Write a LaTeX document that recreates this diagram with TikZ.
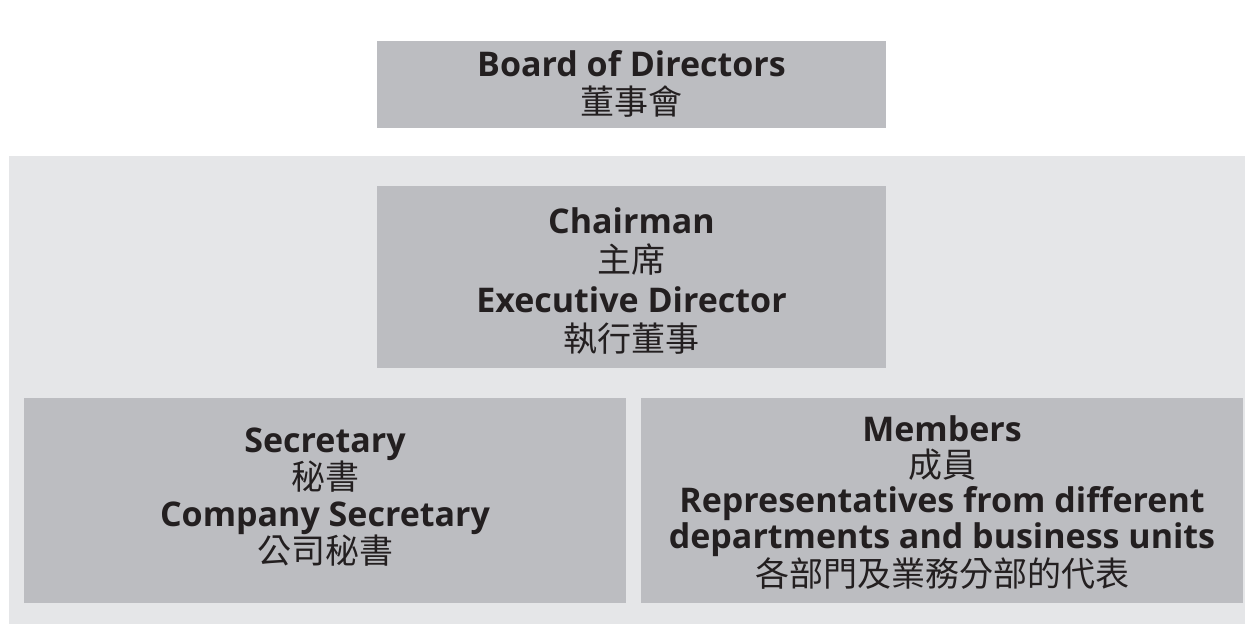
\documentclass[tikz,border=0pt]{standalone}
\usepackage{fontspec}
\setmainfont{Open Sans}
\newfontfamily\cjk{Noto Sans CJK TC}
\definecolor{boxgray}{HTML}{BCBDC1}
\definecolor{panelgray}{HTML}{E5E6E8}
\definecolor{ink}{HTML}{231F20}
\newcommand{\en}[1]{\textbf{#1}}
\newcommand{\zh}[1]{{\cjk #1}}
\begin{document}
\begin{tikzpicture}[x=1pt,y=-1pt,
  orgbox/.style={fill=boxgray, inner sep=0pt},
  orgtext/.style={inner sep=0pt, text=ink, align=center},
  lines/.style={font=\fontsize{34}{#1}\selectfont}]
\useasboundingbox (0,0) rectangle (1246,624);
% committee panel
\fill[panelgray] (9,156) rectangle (1245,624);
% boxes
\node[orgbox, minimum width=509pt, minimum height=87pt]  (board) at (631.5,84.5) {};
\node[orgbox, minimum width=509pt, minimum height=182pt] (chair) at (631.5,277) {};
\node[orgbox, minimum width=602pt, minimum height=205pt] (secr)  at (325,500.5) {};
\node[orgbox, minimum width=602pt, minimum height=205pt] (memb)  at (942,500.5) {};
% titles
\node[orgtext, lines=38, yshift=1pt] (boardtxt) at (board.center)
  {\en{Board of Directors}\\\zh{董事會}};
\node[orgtext, lines=39.5, yshift=-4pt] (chairtxt) at (chair.center)
  {\en{Chairman}\\\zh{主席}\\\en{Executive Director}\\\zh{執行董事}};
\node[orgtext, lines=37, yshift=3pt] (secrtxt) at (secr.center)
  {\en{Secretary}\\\zh{秘書}\\\en{Company Secretary}\\\zh{公司秘書}};
\node[orgtext, lines=35.5, yshift=-2pt] (membtxt) at (memb.center)
  {\en{Members}\\\zh{成員}\\\en{Representatives from different}\\\en{departments and business units}\\\zh{各部門及業務分部的代表}};
\end{tikzpicture}
\end{document}
